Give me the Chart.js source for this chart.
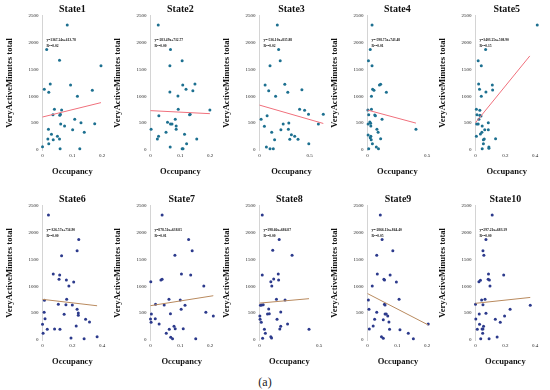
<!DOCTYPE html>
<html>
<head>
<meta charset="utf-8">
<script src="https://cdn.jsdelivr.net/npm/chart.js@4.4.1/dist/chart.umd.min.js"></script>
<style>
  body { margin: 0; background: #fff; }
  #wrap { position: relative; width: 550px; height: 390px; }
  canvas { position: absolute; }
  #tag { position: absolute; left: 250px; top: 375px; width: 30px; text-align: center;
         font: 12px "Liberation Serif", "Times New Roman", serif; color: #222; }
</style>
</head>
<body>
<div id="wrap">
  <div id="tag">(a)</div>
</div>
<script>
// occupancy vs very active minutes, one list of [x, y] per state
const state1 = [[0.083,2326],[0.014,1873],[0.057,1669],[0.196,1569],[0.026,1228],[0.094,1210],[0.006,1129],[0.167,1110],[0.021,1073],[0.117,999],[0.040,757],[0.064,744],[0.035,658],[0.058,645],[0.060,664],[0.108,571],[0.061,484],[0.129,509],[0.175,490],[0.074,447],[0.101,378],[0.020,385],[0.140,329],[0.030,292],[0.050,254],[0.018,205],[0.036,192],[0.057,205],[0.021,118],[0.000,62],[0.059,25],[0.125,25]];
const state2 = [[0.026,2326],[0.067,1873],[0.106,1663],[0.065,1569],[0.108,1210],[0.149,1228],[0.119,1129],[0.142,1104],[0.065,1079],[0.092,1005],[0.093,757],[0.199,744],[0.133,664],[0.131,658],[0.028,639],[0.083,571],[0.057,515],[0.067,484],[0.072,484],[0.086,447],[0.086,385],[0.052,329],[0.114,292],[0.027,254],[0.023,205],[0.155,205],[0.121,118],[0.002,385],[0.066,56],[0.106,25],[0.109,25]];
const state3 = [[0.178,2326],[0.191,1873],[0.207,1663],[0.105,1569],[0.253,1222],[0.056,1210],[0.092,1104],[0.283,1073],[0.424,1123],[0.161,999],[0.401,757],[0.451,738],[0.638,664],[0.490,664],[0.076,639],[0.016,571],[0.293,503],[0.589,484],[0.237,484],[0.049,440],[0.214,378],[0.289,385],[0.122,329],[0.319,285],[0.352,254],[0.303,198],[0.385,198],[0.151,192],[0.493,118],[0.069,56],[0.105,25],[0.138,25]];
const state4 = [[0.038,2326],[0.023,1873],[0.008,1663],[0.038,1569],[0.110,1222],[0.100,1210],[0.043,1129],[0.054,1110],[0.158,1073],[0.033,999],[0.003,744],[0.033,757],[0.010,658],[0.061,651],[0.066,639],[0.122,571],[0.005,484],[0.026,496],[0.020,521],[0.028,447],[0.079,385],[0.089,329],[0.005,279],[0.028,254],[0.023,230],[0.031,192],[0.110,211],[0.406,385],[0.041,118],[0.074,56],[0.010,25],[0.092,25]];
const state5 = [[0.415,2326],[0.068,1873],[0.018,1663],[0.039,1569],[0.021,1228],[0.113,1210],[0.115,1117],[0.027,1129],[0.070,1079],[0.039,999],[0.006,757],[0.029,738],[0.010,658],[0.029,645],[0.037,633],[0.023,571],[0.086,509],[0.008,484],[0.018,484],[0.045,447],[0.062,378],[0.086,378],[0.043,329],[0.033,298],[0.006,254],[0.059,205],[0.053,192],[0.135,211],[0.053,118],[0.090,56],[0.090,31],[0.045,25]];
const state6 = [[0.040,2326],[0.243,1873],[0.232,1663],[0.128,1569],[0.072,1228],[0.115,1210],[0.111,1129],[0.160,1117],[0.209,1079],[0.177,1005],[0.162,757],[0.013,738],[0.106,664],[0.157,658],[0.200,651],[0.232,571],[0.011,515],[0.240,503],[0.240,459],[0.145,478],[0.017,397],[0.289,385],[0.315,335],[0.000,292],[0.226,261],[0.032,198],[0.081,205],[0.117,198],[0.004,124],[0.191,37],[0.279,25],[0.366,62]];
const state7 = [[0.039,2326],[0.128,1873],[0.140,1663],[0.082,1576],[0.104,1228],[0.135,1210],[0.035,1117],[0.039,1129],[0.001,1086],[0.179,1005],[0.062,757],[0.100,744],[0.017,664],[0.046,651],[0.116,645],[0.103,571],[0.186,515],[0.003,484],[0.067,490],[0.211,447],[0.000,391],[0.016,397],[0.002,329],[0.029,298],[0.079,254],[0.063,198],[0.083,211],[0.110,211],[0.053,124],[0.068,50],[0.074,25],[0.152,25]];
const state8 = [[0.023,2326],[0.165,1873],[0.111,1669],[0.273,1576],[0.023,1210],[0.157,1228],[0.160,1117],[0.119,1135],[0.095,1086],[0.103,1005],[0.142,757],[0.214,744],[0.008,645],[0.018,651],[0.031,658],[0.077,577],[0.067,484],[0.082,490],[0.178,521],[0.003,447],[0.005,385],[0.015,329],[0.147,385],[0.235,298],[0.178,254],[0.170,205],[0.041,198],[0.415,198],[0.049,124],[0.026,31],[0.095,62],[0.101,37]];
const state9 = [[0.043,2326],[0.049,1873],[0.085,1663],[0.031,1576],[0.033,1228],[0.076,1210],[0.055,1129],[0.057,1117],[0.097,1079],[0.016,1005],[0.106,757],[0.003,744],[0.057,664],[0.059,651],[0.005,571],[0.031,515],[0.059,484],[0.063,484],[0.068,447],[0.024,385],[0.053,378],[0.072,335],[0.019,261],[0.204,298],[0.006,205],[0.074,198],[0.109,192],[0.137,124],[0.047,62],[0.053,31],[0.154,25]];
const state10 = [[0.112,2326],[0.070,1873],[0.050,1663],[0.056,1576],[0.189,1210],[0.087,1228],[0.085,1129],[0.093,1117],[0.023,1086],[0.033,1110],[0.097,1005],[0.041,744],[0.064,757],[0.000,664],[0.050,658],[0.367,645],[0.232,571],[0.070,496],[0.025,484],[0.195,447],[0.002,391],[0.133,385],[0.166,329],[0.027,292],[0.054,254],[0.012,198],[0.044,205],[0.050,205],[0.048,124],[0.035,25],[0.091,25],[0.145,56]];

const stateNames = ['State1','State2','State3','State4','State5','State6','State7','State8','State9','State10'];
const statePoints = [state1, state2, state3, state4, state5, state6, state7, state8, state9, state10];

// trendline from the equations printed on each panel
const slopes = [1367.24, -283.49, -536.10, -598.75, 3403.25, -326.57, 878.51, 198.66, -2866.11, 297.21];
const intercepts = [613.78, 732.77, 835.88, 743.48, 508.90, 756.90, 638.85, 686.87, 864.40, 683.19];
const lineEnds = [0.196, 0.199, 0.638, 0.406, 0.365, 0.366, 0.211, 0.415, 0.204, 0.367];
const eqLabels = ['y=1367.24x+613.78','y=-283.49x+732.77','y=-536.10x+835.88','y=-598.75x+743.48','y=3403.25x+508.90',
                  'y=-326.57x+756.90','y=878.51x+638.85','y=198.66x+686.87','y=-2866.11x+864.40','y=297.21x+683.19'];
const r2Labels = ['R²=0.02','R²=0.00','R²=0.02','R²=0.01','R²=0.15','R²=0.00','R²=0.01','R²=0.00','R²=0.05','R²=0.00'];

// axes
const xMax = [0.2, 0.2, 0.64, 0.5, 0.42, 0.4, 0.21, 0.5, 0.205, 0.4];
const xTicks = [[0,0.1,0.2],[0,0.1,0.2],[0,0.5],[0,0.5],[0,0.2,0.4],[0,0.2,0.4],[0,0.1,0.2],[0,0.5],[0,0.1,0.2],[0,0.2,0.4]];
const yTicks = [0, 500, 1000, 1500, 2000, 2500];

const serif = '"Liberation Serif", "Times New Roman", serif';
const colLeft = [0, 108, 217, 325, 433];

const eqPlugin = {
  id: 'eq',
  afterDatasetsDraw(chart, args, opts) {
    const c = chart.ctx, a = chart.chartArea;
    c.save();
    c.font = 'bold 3.6px ' + serif;
    c.fillStyle = '#111';
    c.textBaseline = 'middle';
    c.fillText(opts.eq, a.left + 4, a.top + 24.5);
    c.fillText(opts.r2, a.left + 4, a.top + 30.3);
    c.restore();
  }
};

const wrap = document.getElementById('wrap');

for (let i = 0; i < 10; i++) {
  const row = Math.floor(i / 5), col = i % 5;
  const cv = document.createElement('canvas');
  cv.width = 108; cv.height = 190;
  cv.style.left = colLeft[col] + 'px';
  cv.style.top = (row * 190) + 'px';
  wrap.appendChild(cv);

  const dotColor = row === 0 ? '#1d7090' : '#2c3a8c';
  const lineColor = row === 0 ? '#f0707c' : '#b98a5e';
  const m = slopes[i], b = intercepts[i];

  new Chart(cv.getContext('2d'), {
    type: 'scatter',
    data: {
      datasets: [
        {
          data: [{x: 0, y: b}, {x: lineEnds[i], y: m * lineEnds[i] + b}],
          showLine: true, borderColor: lineColor, borderWidth: 1,
          pointRadius: 0, clip: false
        },
        {
          data: statePoints[i].map(p => ({x: p[0], y: p[1]})),
          backgroundColor: dotColor, borderWidth: 0,
          pointRadius: 1.5, clip: false
        }
      ]
    },
    options: {
      responsive: false,
      animation: false,
      devicePixelRatio: 1,
      layout: { autoPadding: false, padding: { left: 0, right: 1.5, top: 0, bottom: 0 } },
      plugins: {
        legend: { display: false },
        tooltip: { enabled: false },
        title: {
          display: true, text: stateNames[i], fullSize: false,
          color: '#111', font: { family: serif, size: 10, weight: 'bold' },
          padding: { top: 3.7, bottom: 0 }
        },
        eq: { eq: eqLabels[i], r2: r2Labels[i] }
      },
      scales: {
        x: {
          type: 'linear', min: 0, max: xMax[i],
          grid: { display: false, drawTicks: false },
          border: { display: false },
          afterBuildTicks: s => { s.ticks = xTicks[i].map(v => ({value: v})); },
          afterFit: s => { s.height = 40; },
          ticks: {
            padding: 2.7, color: '#222', maxRotation: 0,
            font: { family: serif, size: 5 },
            callback: v => v === 0 ? '0' : v.toFixed(1)
          },
          title: {
            display: true, text: 'Occupancy', color: '#111',
            font: { family: serif, size: 8.5, weight: 'bold' },
            padding: { top: 0, bottom: 12.9 }
          }
        },
        y: {
          type: 'linear', min: 0, max: 2500,
          grid: { display: false, drawTicks: false },
          border: { display: true, color: '#d4d4d4', width: 1 },
          afterBuildTicks: s => { s.ticks = yTicks.map(v => ({value: v})); },
          afterFit: s => { s.width = 42.5; },
          ticks: {
            padding: 4, color: '#222', font: { family: serif, size: 5 },
            callback: v => String(v)
          },
          title: {
            display: true, text: 'VeryActiveMinutes total', color: '#111',
            font: { family: serif, size: 8.6, weight: 'bold' },
            padding: { top: 5.1, bottom: 0 }
          }
        }
      }
    },
    plugins: [eqPlugin]
  });
}
</script>
</body>
</html>
